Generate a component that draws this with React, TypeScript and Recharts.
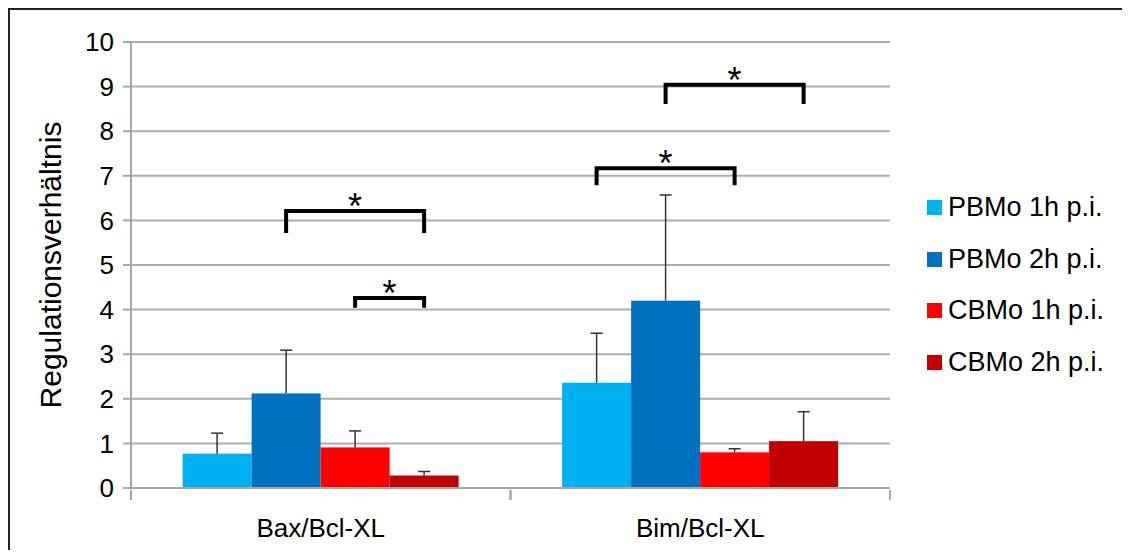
import { BarChart, Bar, XAxis, YAxis, CartesianGrid, Legend } from 'recharts';

const categories = ['Bax/Bcl-XL', 'Bim/Bcl-XL'];

const pbmo1h = [0.77, 2.36];
const pbmo1hErr = [0.46, 1.11];
const pbmo2h = [2.12, 4.2];
const pbmo2hErr = [0.97, 2.37];
const cbmo1h = [0.91, 0.8];
const cbmo1hErr = [0.37, 0.08];
const cbmo2h = [0.28, 1.05];
const cbmo2hErr = [0.09, 0.66];

const yTicks = [0, 1, 2, 3, 4, 5, 6, 7, 8, 9, 10];

// significance brackets: category index, series span (from -> to), bracket level and leg end
const brackets = [
  { group: 0, from: 1, to: 3, top: 6.21, leg: 5.72 },
  { group: 0, from: 2, to: 3, top: 4.26, leg: 4.04 },
  { group: 1, from: 0, to: 2, top: 7.17, leg: 6.79 },
  { group: 1, from: 1, to: 3, top: 9.04, leg: 8.61 },
];

const series = [
  { key: 'pbmo1h', err: 'pbmo1hErr', name: 'PBMo 1h p.i.', color: '#00B0F0' },
  { key: 'pbmo2h', err: 'pbmo2hErr', name: 'PBMo 2h p.i.', color: '#0070C0' },
  { key: 'cbmo1h', err: 'cbmo1hErr', name: 'CBMo 1h p.i.', color: '#FF0000' },
  { key: 'cbmo2h', err: 'cbmo2hErr', name: 'CBMo 2h p.i.', color: '#C00000' },
];

const data = categories.map((name, i) => ({
  name,
  pbmo1h: pbmo1h[i],
  pbmo1hErr: pbmo1hErr[i],
  pbmo2h: pbmo2h[i],
  pbmo2hErr: pbmo2hErr[i],
  cbmo1h: cbmo1h[i],
  cbmo1hErr: cbmo1hErr[i],
  cbmo2h: cbmo2h[i],
  cbmo2hErr: cbmo2hErr[i],
}));

const FONT = '"Liberation Sans", Arial, sans-serif';

// bar with a one-sided (upper) error whisker; the last bar of a bracket also draws the bracket
const barWithError = (seriesIndex: number) => (props: any) => {
  const { x, y, width, height, fill, payload, index } = props;
  const s = series[seriesIndex];
  const v = payload[s.key];
  const perUnit = v ? height / v : 0;
  const base = y + height;
  const toY = (val: number) => base - val * perUnit;
  const cx = x + width / 2;
  const top = toY(v + payload[s.err]);
  const own = brackets.filter((b) => b.group === index && b.to === seriesIndex);
  return (
    <g>
      <rect x={x} y={y} width={width} height={height} fill={fill} />
      <line x1={cx} y1={y} x2={cx} y2={top} stroke="#333" strokeWidth={1.5} />
      <line x1={cx - 6} y1={top} x2={cx + 6} y2={top} stroke="#333" strokeWidth={1.5} />
      {own.map((b, i) => {
        const x1 = cx - (b.to - b.from) * width;
        const yt = toY(b.top);
        const yl = toY(b.leg);
        return (
          <g key={i}>
            <polyline points={`${x1},${yl} ${x1},${yt} ${cx},${yt} ${cx},${yl}`} fill="none"
              stroke="#000" strokeWidth={4} strokeLinejoin="miter" />
            <text x={(x1 + cx) / 2} y={yt + 8} textAnchor="middle" fontSize={36} fontFamily={FONT} fill="#000">*</text>
          </g>
        );
      })}
    </g>
  );
};

// category label with tick marks at the band edges
const CategoryTick = (props: any) => {
  const { x, y, payload } = props;
  const half = payload.offset || 0;
  return (
    <g>
      <line x1={x - half} y1={y} x2={x - half} y2={y + 10} stroke="#a6a6a6" strokeWidth={2} />
      <line x1={x + half} y1={y} x2={x + half} y2={y + 10} stroke="#a6a6a6" strokeWidth={2} />
      <text x={x} y={y + 47} textAnchor="middle" fontSize={26} fontFamily={FONT} fill="#000">{payload.value}</text>
    </g>
  );
};

const YLabel = (props: any) => {
  const { viewBox } = props;
  const x = 40;
  const y = viewBox.y + viewBox.height / 2;
  return (
    <text x={x} y={y} transform={`rotate(-90 ${x} ${y})`} textAnchor="middle" dominantBaseline="central"
      fontSize={30} fontFamily={FONT} fill="#000">
      Regulationsverhältnis
    </text>
  );
};

const LegendList = () => (
  <div style={{ fontFamily: FONT, fontSize: 27, color: '#000' }}>
    {series.map((s) => (
      <div key={s.key} style={{ display: 'flex', alignItems: 'center', height: 51.5 }}>
        <span style={{ width: 15, height: 15, background: s.color, marginRight: 6, display: 'inline-block' }} />
        <span>{s.name}</span>
      </div>
    ))}
  </div>
);

export default function App() {
  return (
    <div style={{ width: 1112, height: 540, borderTop: '2px solid #222', borderLeft: '2px solid #222', overflow: 'hidden' }}>
      <BarChart width={1112} height={540} data={data} barGap={0} barCategoryGap="13.6%"
        margin={{ top: 32, right: 232, left: 0, bottom: 2 }}>
        <CartesianGrid vertical={false} stroke="#adadad" strokeWidth={2} />
        <XAxis dataKey="name" height={60} stroke="#a6a6a6" strokeWidth={2} tickLine={false} tickSize={0}
          tick={<CategoryTick />} />
        <YAxis width={121} domain={[0, 10]} ticks={yTicks} interval={0} tickSize={8} tickMargin={9}
          stroke="#a6a6a6" strokeWidth={2} tick={{ fill: '#000', fontSize: 26, fontFamily: FONT }}
          label={<YLabel />} />
        {series.map((s, i) => (
          <Bar key={s.key} dataKey={s.key} name={s.name} fill={s.color} isAnimationActive={false}
            shape={barWithError(i)} />
        ))}
        <Legend layout="vertical" align="center" verticalAlign="middle" content={<LegendList />}
          wrapperStyle={{ left: 917, top: 172, width: 200 }} />
      </BarChart>
    </div>
  );
}
